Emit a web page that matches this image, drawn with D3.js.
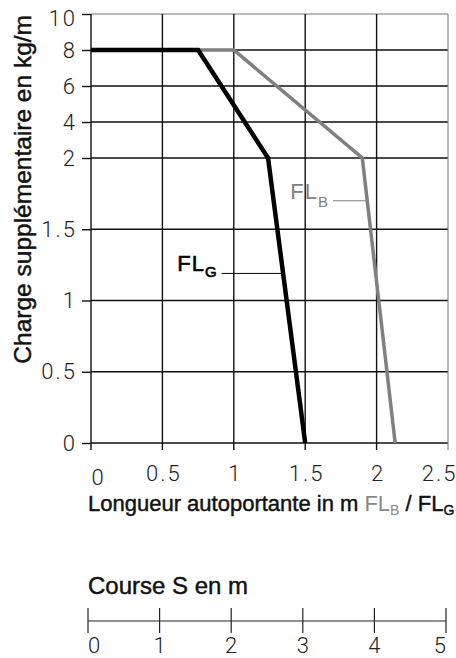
<!DOCTYPE html>
<html>
<head>
<meta charset="utf-8">
<script src="https://cdn.jsdelivr.net/npm/d3@7"></script>
<style>
  body { margin: 0; background: #fff; }
  svg text { font-family: "Liberation Sans", Arial, sans-serif; }
  .tick text { font-family: Roboto, sans-serif; font-weight: 300; font-size: 22px; fill: #222; letter-spacing: 2px; }
  .title { font-size: 24px; fill: #111; stroke: #111; stroke-width: 0.45; }
</style>
</head>
<body>
<div id="chart"></div>
<script>
// axis ticks
const xTicks = [0, 0.5, 1, 1.5, 2, 2.5];
const yTicks = [0, 0.5, 1, 1.5, 2, 4, 6, 8, 10];
const yBreaks = [0, 2, 10]; // y axis is stretched below 2 and compressed above
const courseTicks = [0, 1, 2, 3, 4, 5];

// curves (x = longueur autoportante, y = charge)
const flG_x = [0, 0.75, 1.24, 1.5];
const flG_y = [8, 8, 2, 0];
const flB_x = [0, 1, 1.9, 2.13];
const flB_y = [8, 8, 2, 0];

// where the leader lines of the labels touch the curves
const labelFLG = [1.335, 1.19];
const labelFLB = [1.94, 1.70];

const W = 456, H = 658;
const margin = { top: 14, left: 91 },
  width = 357,
  height = 429;

const svg = d3.select('#chart').append('svg')
  .attr('width', W)
  .attr('height', H);

const g = svg.append('g')
  .attr('transform', 'translate(' + margin.left + ',' + margin.top + ')');

const xScale = d3.scaleLinear().domain([0, 2.5]).range([0, width]);
const yScale = d3.scaleLinear().domain(yBreaks).range([height, height - 285, 0]);

//grid first
g.append('g').attr('class', 'grid_h')
  .selectAll('line').data(yTicks).join('line')
  .attr('x1', 0).attr('x2', width)
  .attr('y1', d => yScale(d)).attr('y2', d => yScale(d))
  .attr('stroke', d => d === 10 ? '#777' : '#111')
  .attr('stroke-width', d => d === 10 ? 1 : 1.4);

g.append('g').attr('class', 'grid_v')
  .selectAll('line').data(xTicks).join('line')
  .attr('x1', d => xScale(d)).attr('x2', d => xScale(d))
  .attr('y1', 0).attr('y2', height + 7)
  .attr('stroke', d => d === 2.5 ? '#777' : '#111')
  .attr('stroke-width', d => d === 2.5 ? 1 : 1.4);

// y axis
const yAxis = g.append('g').attr('class', 'y_axis')
  .call(d3.axisLeft(yScale).tickValues(yTicks).tickSize(9).tickPadding(5)
    .tickFormat(d => String(d)));
yAxis.select('.domain').remove();
yAxis.selectAll('.tick line').attr('stroke', '#111').attr('stroke-width', 1.4);
yAxis.selectAll('.tick text').filter(d => d === 10).attr('dy', '0.5em');

// x axis
const xAxis = g.append('g').attr('class', 'x_axis')
  .attr('transform', 'translate(0,' + height + ')')
  .call(d3.axisBottom(xScale).tickValues(xTicks).tickSize(0).tickPadding(20)
    .tickFormat(d => String(d)));
xAxis.select('.domain').remove();
xAxis.selectAll('.tick text')
  .attr('text-anchor', d => d === 0 ? 'start' : d === 2.5 ? 'end' : 'middle')
  .attr('x', d => d === 0 ? 0 : d === 2.5 ? 9 : 1)
  .attr('dy', d => d === 0 ? '1.0em' : '0.8em');

// curves
const line = d3.line()
  .x(d => xScale(d[0]))
  .y(d => yScale(d[1]));

g.append('path')
  .datum(d3.zip(flB_x, flB_y))
  .attr('d', line)
  .attr('fill', 'none')
  .attr('stroke', '#808080')
  .attr('stroke-width', 3.5);

g.append('path')
  .datum(d3.zip(flG_x, flG_y))
  .attr('d', line)
  .attr('fill', 'none')
  .attr('stroke', '#000')
  .attr('stroke-width', 4.5);

// curve labels with leader lines
function curveLabel(pt, lead, color, bold, sub, subDy) {
  const px = xScale(pt[0]), py = yScale(pt[1]);
  g.append('line')
    .attr('x1', px - lead).attr('x2', px)
    .attr('y1', py).attr('y2', py)
    .attr('stroke', color).attr('stroke-width', 1);
  const t = g.append('text')
    .attr('x', px - lead - 4).attr('y', py - 2)
    .attr('text-anchor', 'end')
    .attr('fill', color)
    .attr('stroke', color)
    .attr('stroke-width', bold)
    .style('font-size', '22px')
    .style('letter-spacing', '1px');
  t.append('tspan').text('FL');
  t.append('tspan').attr('dy', subDy).style('font-size', '15px').text(sub);
}
curveLabel(labelFLG, 60, '#000', 0.6, 'G', 6);
curveLabel(labelFLB, 35, '#808080', 0, 'B', 8);

// axis titles
svg.append('text')
  .attr('class', 'title')
  .attr('transform', 'translate(31,15) rotate(-90)')
  .attr('text-anchor', 'end')
  .style('font-size', '24.5px')
  .text('Charge supplémentaire en kg/m');

const xt = svg.append('text')
  .attr('class', 'title')
  .attr('x', 88).attr('y', 511)
  .style('font-size', '22px');
xt.append('tspan').text('Longueur autoportante in m ');
xt.append('tspan').attr('fill', '#888').attr('stroke', 'none').text('FL');
xt.append('tspan').attr('fill', '#888').attr('stroke', 'none').attr('dy', 4).style('font-size', '14px').text('B');
xt.append('tspan').attr('dy', -4).text(' / FL');
xt.append('tspan').attr('dy', 4).style('font-size', '14px').text('G');

// course scale below
const courseScale = d3.scaleLinear().domain([0, 5]).range([88, 446]);
const cy = 621;

svg.append('text')
  .attr('class', 'title')
  .attr('x', 88).attr('y', 594)
  .text('Course S en m');

svg.append('line')
  .attr('x1', courseScale(0)).attr('x2', courseScale(5))
  .attr('y1', cy).attr('y2', cy)
  .attr('stroke', '#222').attr('stroke-width', 1.2);

const ct = svg.append('g').attr('class', 'course')
  .selectAll('g').data(courseTicks).join('g')
  .attr('class', 'tick')
  .attr('transform', d => 'translate(' + courseScale(d) + ',0)');
ct.append('line')
  .attr('y1', cy - 13).attr('y2', cy + 12)
  .attr('stroke', '#222').attr('stroke-width', 1.2);
ct.append('text')
  .attr('y', 653)
  .attr('text-anchor', d => d === 0 ? 'start' : d === 5 ? 'end' : 'middle')
  .attr('x', d => d === 5 ? 2 : d === 0 ? 0 : 1)
  .text(d => String(d));
</script>
</body>
</html>
